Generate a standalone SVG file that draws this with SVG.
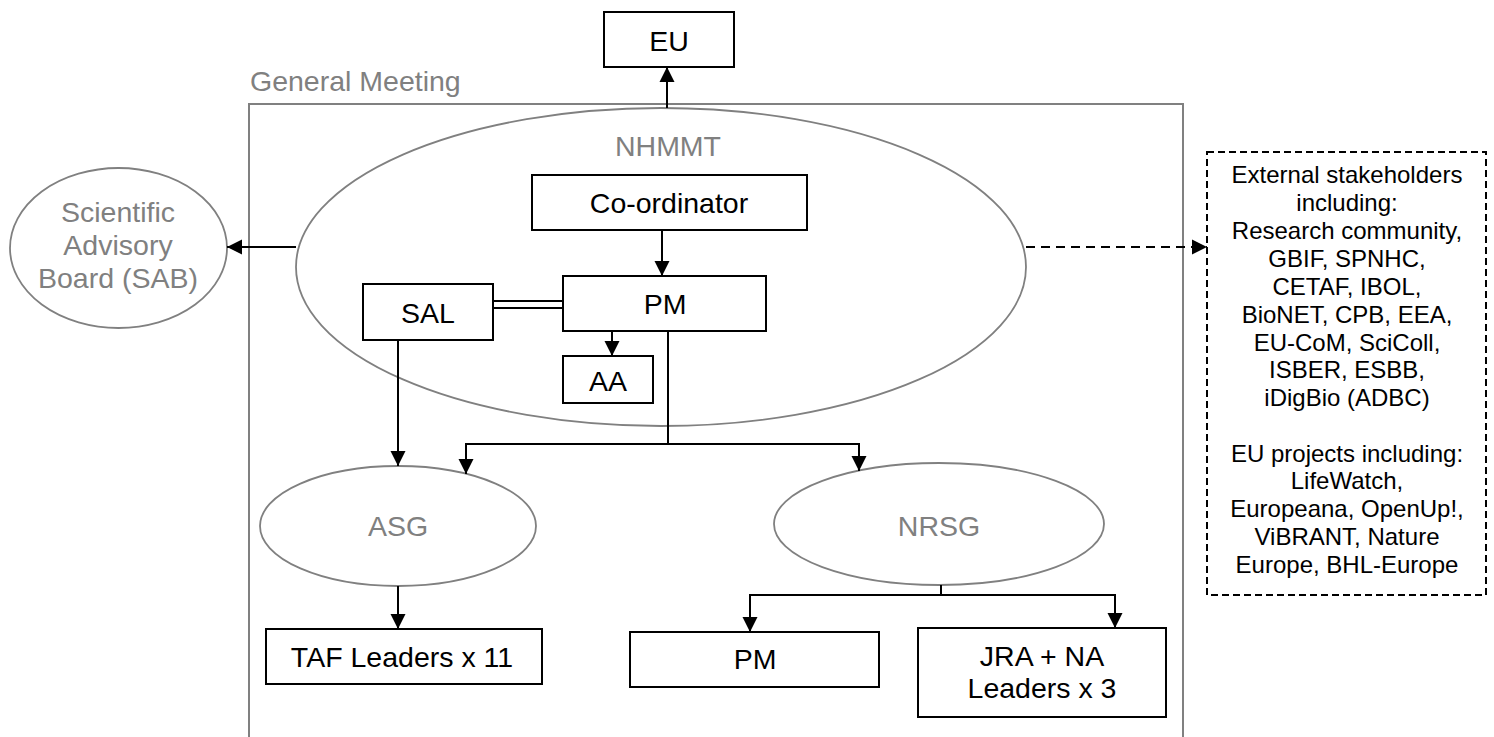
<svg xmlns="http://www.w3.org/2000/svg" width="1494" height="737" viewBox="0 0 1494 737">
  <style>
    text { font-family: "Liberation Sans", Arial, sans-serif; text-anchor: middle; }
    .lbl { font-size: 28.5px; fill: #000; }
    .glbl { font-size: 28.5px; fill: #808080; }
    .small { font-size: 24px; fill: #000; }
    .box { fill: #fff; stroke: #000; stroke-width: 2; }
    .oval { fill: none; stroke: #808080; stroke-width: 1.8; }
    .frame { fill: none; stroke: #808080; stroke-width: 2; }
    .ext { fill: #fff; stroke: #000; stroke-width: 2; stroke-dasharray: 7 4; }
    .wire { fill: none; stroke: #000; stroke-width: 2; }
    .arrow { fill: none; stroke: #000; stroke-width: 2; marker-end: url(#head); }
    .dashed { stroke-dasharray: 9 6; }
  </style>
  <defs>
    <marker id="head" markerUnits="userSpaceOnUse" markerWidth="15" markerHeight="16" refX="15" refY="8" orient="auto">
      <path d="M0,0.5 L15,8 L0,15.5 z" fill="#000"/>
    </marker>
  </defs>

  <!-- General Meeting frame (open at the bottom of the page) -->
  <g id="general-meeting">
    <rect class="frame" x="249" y="104" width="934" height="680"/>
    <text class="glbl" x="250" y="91" style="text-anchor:start">General Meeting</text>
  </g>

  <g id="eu">
    <rect class="box" x="604" y="12" width="130" height="55"/>
    <text class="lbl" x="669" y="51">EU</text>
  </g>

  <g id="nhmmt">
    <ellipse class="oval" cx="661" cy="267" rx="365" ry="159"/>
    <text class="glbl" x="668" y="156">NHMMT</text>
  </g>

  <g id="sab">
    <ellipse class="oval" cx="118.5" cy="248" rx="108.5" ry="80"/>
    <text class="glbl" x="118" y="222">Scientific</text>
    <text class="glbl" x="118" y="255">Advisory</text>
    <text class="glbl" x="118" y="288">Board (SAB)</text>
  </g>

  <g id="external">
    <rect class="ext" x="1207" y="152" width="279" height="443"/>
    <text class="small" x="1347" y="183">External stakeholders</text>
    <text class="small" x="1347" y="211">including:</text>
    <text class="small" x="1347" y="239">Research community,</text>
    <text class="small" x="1347" y="267">GBIF, SPNHC,</text>
    <text class="small" x="1347" y="295">CETAF, IBOL,</text>
    <text class="small" x="1347" y="323">BioNET, CPB, EEA,</text>
    <text class="small" x="1347" y="351">EU-CoM, SciColl,</text>
    <text class="small" x="1347" y="378">ISBER, ESBB,</text>
    <text class="small" x="1347" y="406">iDigBio (ADBC)</text>
    <text class="small" x="1347" y="462">EU projects including:</text>
    <text class="small" x="1347" y="489">LifeWatch,</text>
    <text class="small" x="1347" y="517">Europeana, OpenUp!,</text>
    <text class="small" x="1347" y="545">ViBRANT, Nature</text>
    <text class="small" x="1347" y="573">Europe, BHL-Europe</text>
  </g>

  <g id="coordinator">
    <rect class="box" x="532" y="175" width="275" height="55"/>
    <text class="lbl" x="669" y="213">Co-ordinator</text>
  </g>

  <g id="pm-top">
    <rect class="box" x="563" y="276" width="203" height="55"/>
    <text class="lbl" x="665" y="314">PM</text>
  </g>

  <g id="sal">
    <rect class="box" x="363" y="284" width="130" height="56"/>
    <text class="lbl" x="428" y="323">SAL</text>
  </g>

  <g id="aa">
    <rect class="box" x="563" y="356" width="90" height="47"/>
    <text class="lbl" x="608" y="391">AA</text>
  </g>

  <g id="asg">
    <ellipse class="oval" cx="398" cy="526" rx="138" ry="60"/>
    <text class="glbl" x="398" y="536">ASG</text>
  </g>

  <g id="nrsg">
    <ellipse class="oval" cx="939" cy="524" rx="165" ry="61"/>
    <text class="glbl" x="939" y="536">NRSG</text>
  </g>

  <g id="taf">
    <rect class="box" x="266" y="629" width="276" height="55"/>
    <text class="lbl" x="402" y="667">TAF Leaders x 11</text>
  </g>

  <g id="pm-bottom">
    <rect class="box" x="630" y="632" width="249" height="55"/>
    <text class="lbl" x="755" y="669">PM</text>
  </g>

  <g id="jra-na">
    <rect class="box" x="918" y="628" width="248" height="89"/>
    <text class="lbl" x="1042" y="666">JRA + NA</text>
    <text class="lbl" x="1042" y="698">Leaders x 3</text>
  </g>

  <g id="connectors">
    <line class="arrow" x1="667" y1="108" x2="667" y2="67"/>
    <line class="arrow" x1="296" y1="247" x2="227" y2="247"/>
    <line class="arrow dashed" x1="1026" y1="247" x2="1207" y2="247"/>
    <line class="arrow" x1="662" y1="230" x2="662" y2="276"/>
    <line class="wire" x1="493" y1="301" x2="563" y2="301"/>
    <line class="wire" x1="493" y1="308" x2="563" y2="308"/>
    <line class="arrow" x1="612" y1="331" x2="612" y2="356"/>
    <line class="arrow" x1="398" y1="340" x2="398" y2="466"/>
    <polyline class="wire" points="668,331 668,444"/>
    <polyline class="arrow" points="668,444 466,444 466,474"/>
    <polyline class="arrow" points="668,444 859,444 859,471"/>
    <line class="arrow" x1="398" y1="586" x2="398" y2="629"/>
    <polyline class="wire" points="941,585 941,595"/>
    <polyline class="arrow" points="941,595 750,595 750,632"/>
    <polyline class="arrow" points="941,595 1115,595 1115,628"/>
  </g>
</svg>
